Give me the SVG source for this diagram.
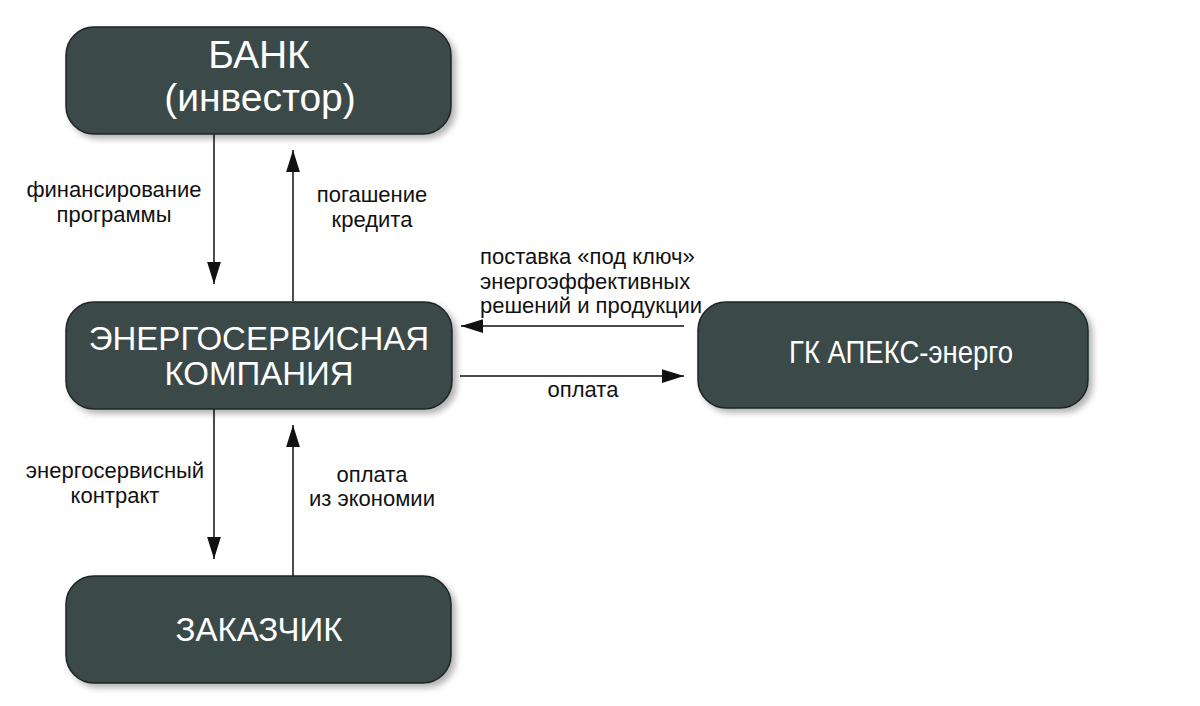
<svg xmlns="http://www.w3.org/2000/svg" width="1200" height="706" viewBox="0 0 1200 706">
<style>
.box{fill:#3a4948;stroke:#1e2626;stroke-width:1.5;filter:url(#sh)}
.nt{fill:#ffffff;font-family:"Liberation Sans",Arial,sans-serif;text-anchor:middle}
.lb{fill:#111;font-family:"Liberation Sans",Arial,sans-serif;font-size:22px}
.c{text-anchor:middle}
.ln{stroke:#111;stroke-width:1.5;fill:none}
</style>
<defs>
<filter id="sh" x="-5%" y="-10%" width="115%" height="130%">
<feDropShadow dx="4" dy="4" stdDeviation="3" flood-color="#000" flood-opacity="0.3"/>
</filter>
<marker id="ah2" viewBox="0 0 16 10" refX="16" refY="5" markerWidth="22" markerHeight="14" markerUnits="userSpaceOnUse" orient="auto">
<path d="M0,0 L16,5 L0,10 z" fill="#111"/>
</marker>
</defs>
<rect width="1200" height="706" fill="#fff"/>
<g id="connectors">
<line class="ln" x1="214" y1="134" x2="214" y2="284" marker-end="url(#ah2)"/>
<line class="ln" x1="293" y1="301" x2="293" y2="150" marker-end="url(#ah2)"/>
<line class="ln" x1="214" y1="409" x2="214" y2="559" marker-end="url(#ah2)"/>
<line class="ln" x1="293" y1="576" x2="293" y2="425" marker-end="url(#ah2)"/>
<line class="ln" x1="684" y1="326" x2="461" y2="326" marker-end="url(#ah2)"/>
<line class="ln" x1="460" y1="376" x2="684" y2="376" marker-end="url(#ah2)"/>
<text class="lb c" x="114" y="197">финансирование</text>
<text class="lb c" x="114" y="222">программы</text>
<text class="lb c" x="372" y="202">погашение</text>
<text class="lb c" x="372" y="227">кредита</text>
<text class="lb c" x="115" y="478">энергосервисный</text>
<text class="lb c" x="115" y="503">контракт</text>
<text class="lb c" x="372" y="482">оплата</text>
<text class="lb c" x="372" y="506">из экономии</text>
<text class="lb" x="480" y="264" font-size="21">поставка «под ключ»</text>
<text class="lb" x="480" y="289">энергоэффективных</text>
<text class="lb" x="480" y="313">решений и продукции</text>
<text class="lb c" x="583" y="397">оплата</text>
</g>
<g id="bank">
<rect class="box" x="66" y="27" width="385" height="107" rx="28"/>
<text class="nt" x="259" y="68" font-size="39">БАНК</text>
<text class="nt" x="260" y="111" font-size="39">(инвестор)</text>
</g>
<g id="esco">
<rect class="box" x="66" y="302" width="386" height="107" rx="28"/>
<text class="nt" x="259" y="350" font-size="33">ЭНЕРГОСЕРВИСНАЯ</text>
<text class="nt" x="259" y="385" font-size="33">КОМПАНИЯ</text>
</g>
<g id="apex">
<rect class="box" x="698" y="302" width="390" height="106" rx="28"/>
<text class="nt" x="901" y="363" font-size="32" transform="translate(901 0) scale(0.86 1) translate(-901 0)">ГК АПЕКС-энерго</text>
</g>
<g id="customer">
<rect class="box" x="66" y="576" width="385" height="107" rx="28"/>
<text class="nt" x="259" y="641" font-size="33">ЗАКАЗЧИК</text>
</g>
</svg>
